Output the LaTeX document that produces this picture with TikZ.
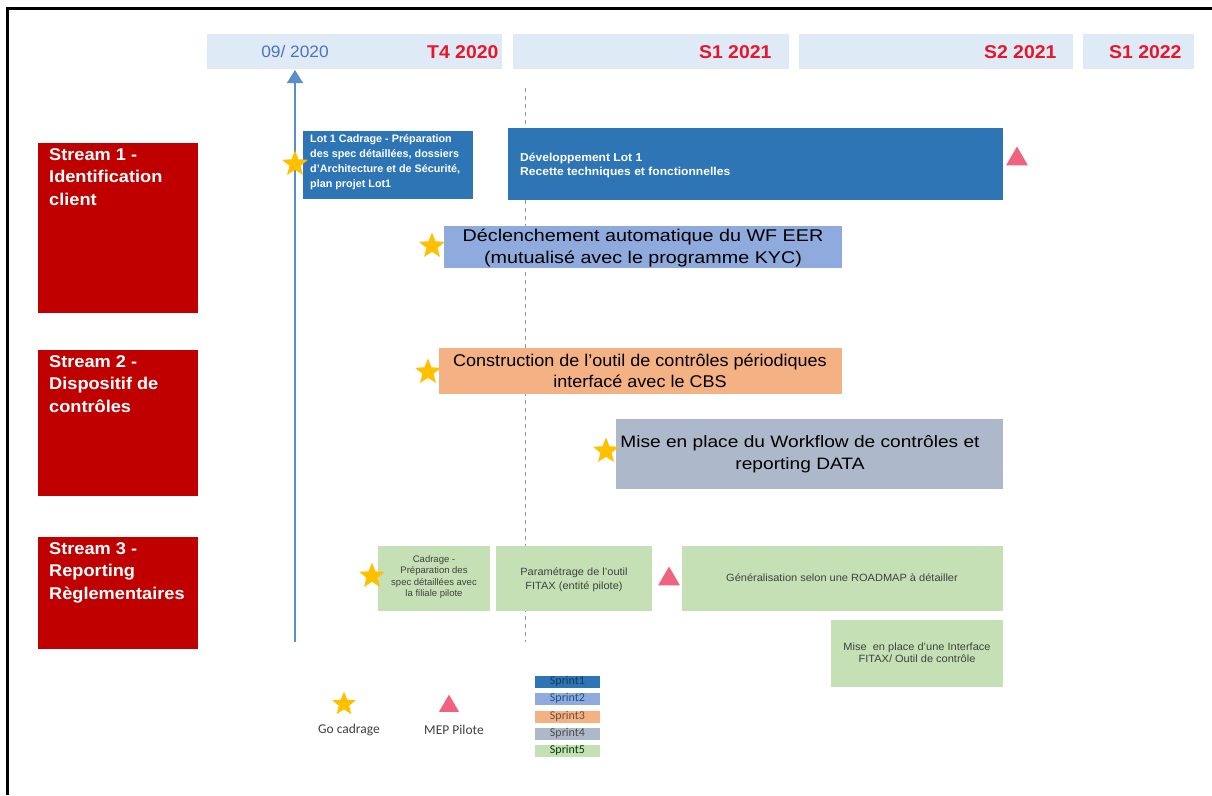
\documentclass[tikz,border=0pt]{standalone}
\usepackage{fontspec}
\setmainfont{Liberation Sans}
\newfontfamily\hdrfont[FakeStretch=1.05]{Liberation Sans}
\newfontfamily\streamfont[FakeStretch=1.07]{Liberation Sans}
\newfontfamily\bigfont[FakeStretch=1.06]{Liberation Sans}
\newfontfamily\bigwidefont[FakeStretch=1.16]{Liberation Sans}
\newfontfamily\smallfont[FakeStretch=1.05]{Liberation Sans}
\newfontfamily\calfont{Carlito}
\usetikzlibrary{shapes.geometric,arrows.meta}
\definecolor{hdr}{HTML}{DEEAF6}
\definecolor{hdrblue}{HTML}{4F72B8}
\definecolor{hdrred}{HTML}{E8162B}
\definecolor{streamred}{HTML}{C00000}
\definecolor{sp1}{HTML}{2E75B6}
\definecolor{sp2}{HTML}{8FAADC}
\definecolor{sp3}{HTML}{F4B183}
\definecolor{sp4}{HTML}{ADB9CA}
\definecolor{sp5}{HTML}{C5E0B4}
\definecolor{gold}{HTML}{FFC000}
\definecolor{pinkt}{HTML}{F0627E}
\definecolor{arrowblue}{HTML}{5B8FC9}
\tikzset{
  x=1pt, y=-1pt,
  box/.style={draw=none, inner sep=0pt, outer sep=0pt, anchor=north west},
  hdrbar/.style={box, fill=hdr, minimum height=35pt},
  hdrtxt/.style={font=\hdrfont\bfseries\fontsize{18.5}{20}\selectfont, text=hdrred, anchor=east},
  streambox/.style={box, fill=streamred, minimum width=160pt},
  streamtxt/.style={anchor=north west, text=white, font=\streamfont\bfseries\fontsize{17}{22.5}\selectfont, align=left, inner sep=0pt},
  startxt/.style={star, star points=5, star point ratio=2.3, fill=gold, draw=none, minimum size=27pt, inner sep=0pt},
  milestone/.style={regular polygon, regular polygon sides=3, fill=pinkt, draw=none, minimum size=25pt, inner sep=0pt},
  bigtxt/.style={font=\bigfont\fontsize{17}{21.5}\selectfont, align=center},
  smalltxt/.style={font=\smallfont\fontsize{10.5}{12}\selectfont, align=center, text=black!75},
  sprint/.style={box, minimum width=65pt, minimum height=11.5pt},
  sprinttxt/.style={font=\calfont\fontsize{12}{12}\selectfont, inner sep=0pt},
  legtxt/.style={font=\calfont\fontsize{13.5}{15}\selectfont, text=black!75},
}
\begin{document}
\begin{tikzpicture}
\useasboundingbox (0,0) rectangle (1212,795);
\fill[white] (0,0) rectangle (1212,795);
% frame
\draw[line width=3pt] (7,795) -- (7,8) -- (1212,8);

% header
\node[hdrbar, minimum width=295pt] (h1) at (207,34) {};
\node[hdrbar, minimum width=276pt] (h2) at (513,34) {};
\node[hdrbar, minimum width=274pt] (h3) at (799,34) {};
\node[hdrbar, minimum width=111pt] (h4) at (1083,34) {};
\node[font=\hdrfont\fontsize{16.5}{18}\selectfont, text=hdrblue] (d0920) at (295,52) {09/ 2020};
\node[hdrtxt] (t4) at (502,52) {T4 2020};
\node[hdrtxt] (s121) at (775,52) {S1 2021};
\node[hdrtxt] (s221) at (1060,52) {S2 2021};
\node[hdrtxt] (s122) at (1185,52) {S1 2022};

% timeline lines
\coordinate (abot) at (295,642);
\coordinate (atop) at (295,70);
\draw[arrowblue, line width=1.2pt, -{Triangle[width=16pt,length=13pt]}] (abot) -- (atop);
\coordinate (dtop) at (525,88);
\coordinate (dbot) at (525,642);
\draw[black!40, dash pattern=on 4pt off 4pt, line width=0.6pt] (dtop) -- (dbot);

% streams
\node[streambox, minimum height=170pt] (st1) at (38,143) {};
\node[streamtxt] (st1t) at (49,148) {Stream 1 -\\Identification\\client};
\node[streambox, minimum height=146pt] (st2) at (38,350) {};
\node[streamtxt] (st2t) at (49,355) {Stream 2 -\\Dispositif de\\contrôles};
\node[streambox, minimum height=112pt] (st3) at (38,537) {};
\node[streamtxt] (st3t) at (49,542) {Stream 3 -\\Reporting\\Règlementaires};

% stream 1
\node[box, fill=sp1, minimum width=170pt, minimum height=68pt] (lot1) at (303,131) {};
\node[anchor=north west, inner sep=0pt, text=white, font=\bfseries\fontsize{10.8}{15}\selectfont, align=left] (lot1t) at (310,134) {Lot 1 Cadrage - Préparation\\des spec détaillées, dossiers\\d’Architecture et de Sécurité,\\plan projet Lot1};
\node[startxt] (star1) at (295,164) {};
\node[box, fill=sp1, minimum width=495pt, minimum height=72pt] (dev) at (508,128) {};
\node[anchor=west, inner sep=0pt, text=white, font=\smallfont\bfseries\fontsize{11.5}{14}\selectfont, align=left] (devt) at (520,165) {Développement Lot 1\\Recette techniques et fonctionnelles};
\node[milestone] (tri1) at (1017,159) {};

\node[box, fill=sp2, minimum width=398pt, minimum height=42pt] (decl) at (444,226) {};
\node[bigtxt, font=\bigwidefont\fontsize{17}{21.5}\selectfont] (declt) at (643,248) {Déclenchement automatique du WF EER\\(mutualisé avec le programme KYC)};
\node[startxt] (star2) at (432,246) {};

% stream 2
\node[box, fill=sp3, minimum width=403pt, minimum height=46pt] (cons) at (439,348) {};
\node[bigtxt] (const) at (640,371) {Construction de l’outil de contrôles périodiques\\interfacé avec le CBS};
\node[startxt] (star3) at (428,372) {};
\node[box, fill=sp4, minimum width=387pt, minimum height=70pt] (wf) at (616,419) {};
\node[bigtxt, font=\bigwidefont\fontsize{16.5}{21.5}\selectfont] (wft) at (800,454) {Mise en place du Workflow de contrôles et\\reporting DATA};
\node[startxt] (star4) at (606,451) {};

% stream 3
\node[box, fill=sp5, minimum width=112pt, minimum height=65pt] (cad) at (378,546) {};
\node[smalltxt, font=\fontsize{9.5}{11.5}\selectfont] (cadt) at (434,577) {Cadrage -\\Préparation des\\spec détaillées avec\\la filiale pilote};
\node[startxt] (star5) at (372,576) {};
\node[box, fill=sp5, minimum width=156pt, minimum height=65pt] (par) at (496,546) {};
\node[smalltxt, font=\smallfont\fontsize{10.5}{14}\selectfont] (part) at (574,580) {Paramétrage de l’outil\\FITAX (entité pilote)};
\node[milestone] (tri2) at (669,579) {};
\node[box, fill=sp5, minimum width=321pt, minimum height=65pt] (gen) at (682,546) {};
\node[smalltxt] (gent) at (842,578) {Généralisation selon une ROADMAP à détailler};
\node[box, fill=sp5, minimum width=172pt, minimum height=67pt] (itf) at (831,620) {};
\node[smalltxt] (itft) at (917,653) {Mise \ en place d’une Interface\\FITAX/ Outil de contrôle};

% legend
\node[startxt, minimum size=25pt] (lstar) at (344,704) {};
\node[legtxt] (lstart) at (349,730) {Go cadrage};
\node[milestone, minimum size=23pt] (ltri) at (449,706) {};
\node[legtxt] (ltrit) at (454,730) {MEP Pilote};
\node[sprint, fill=sp1] (sp1n) at (535,676) {};
\node[sprinttxt, text=sp1!50!black] at (sp1n.center) {Sprint1};
\node[sprint, fill=sp2] (sp2n) at (535,693) {};
\node[sprinttxt, text=sp1!70!black] at (sp2n.center) {Sprint2};
\node[sprint, fill=sp3] (sp3n) at (535,711) {};
\node[sprinttxt, text=sp3!45!black] at (sp3n.center) {Sprint3};
\node[sprint, fill=sp4] (sp4n) at (535,728) {};
\node[sprinttxt, text=black!70] at (sp4n.center) {Sprint4};
\node[sprint, fill=sp5] (sp5n) at (535,745) {};
\node[sprinttxt, text=green!25!black] at (sp5n.center) {Sprint5};
\end{tikzpicture}
\end{document}
